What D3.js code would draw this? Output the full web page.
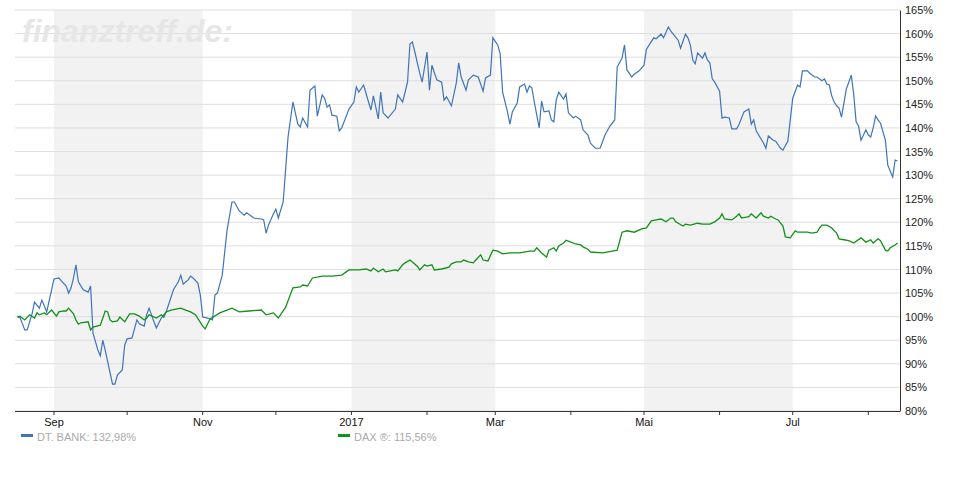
<!DOCTYPE html>
<html><head><meta charset="utf-8">
<script src="https://cdn.jsdelivr.net/npm/d3@7"></script>
<style>body{margin:0;background:#fff}svg{font-family:"Liberation Sans",Arial,sans-serif}</style>
</head><body><svg id="c" width="970" height="500"></svg>
<script>
const startDate = "2016-08-16", endDate = "2017-08-14";
const bankDays = [1,2,4,5,7,8,10,11,12,13,15,16,18,19,21,22,23,24,25,26,28,30,31,32,34,35,36,37,40,41,42,44,45,46,48,50,51,53,54,55,57,58,60,62,65,67,68,69,71,72,73,75,76,77,79,81,82,83,85,87,89,90,92,94,95,97,98,101,102,103,104,106,107,108,110,112,114,116,117,118,120,121,123,124,126,127,128,129,130,132,133,134,137,139,140,141,143,145,146,147,149,150,151,153,156,157,159,161,162,163,164,166,167,169,170,171,173,175,176,177,179,181,182,183,185,186,188,190,192,193,195,196,198,199,200,202,203,204,206,207,209,210,211,212,213,215,216,217,219,220,221,222,223,225,226,227,229,230,232,233,235,236,238,240,242,244,246,247,249,250,251,253,254,256,258,259,262,263,265,266,268,269,270,272,273,275,276,277,278,279,280,282,283,284,285,286,287,289,290,291,293,294,296,297,299,301,302,303,304,307,308,309,311,312,314,315,317,318,319,321,322,323,325,326,328,329,331,332,333,334,335,336,337,338,339,340,341,342,343,344,345,346,347,349,350,351,352,353,354,355,357,358,360,361,362];
const bankValues = [99.9,99.9,97.2,97.2,100.6,103.1,101.8,103.5,102.3,101.0,105.7,108.0,108.2,107.6,106.5,105.0,106.1,108.2,111.0,107.4,105.7,105.2,106.5,96.5,92.9,91.7,95.0,92.9,85.7,85.7,87.6,88.7,94.0,95.3,95.5,99.3,98.5,98.0,100.4,101.8,98.9,97.6,99.7,101.0,105.7,107.4,108.8,106.9,107.8,108.6,108.2,107.1,104.6,99.9,99.7,99.3,104.6,105.0,108.8,118.4,124.3,124.3,122.4,121.5,122.0,121.3,120.9,120.7,120.5,117.7,119.4,121.8,122.8,120.9,124.3,138.1,145.5,140.8,140.2,142.1,140.2,148.0,148.9,142.5,147.0,146.3,144.4,144.9,142.7,142.5,139.4,140.0,144.0,145.5,148.7,147.6,149.1,145.5,143.8,146.8,141.9,147.6,143.2,142.1,144.0,147.0,145.5,149.7,157.8,158.2,156.1,151.6,149.7,156.1,148.0,153.3,150.2,149.7,145.9,146.6,144.7,149.5,153.8,150.8,148.0,150.2,151.2,150.8,147.8,150.6,151.2,159.1,157.6,155.7,147.6,143.4,140.8,143.4,145.3,148.7,149.3,147.6,148.9,148.5,145.5,140.0,145.7,143.4,143.6,141.7,141.3,145.9,147.6,146.1,147.2,143.2,142.1,142.5,141.7,139.6,138.5,136.8,135.7,135.7,138.5,140.4,141.7,152.9,154.8,157.6,152.3,150.8,151.4,152.1,153.3,156.7,159.1,158.9,159.9,159.1,161.4,160.5,159.9,158.6,156.9,159.9,159.1,157.6,154.4,153.6,155.9,154.8,155.9,154.4,153.8,150.4,149.7,147.8,142.1,142.3,142.1,139.8,139.8,140.8,143.4,144.0,140.8,141.7,139.4,136.8,135.7,138.3,137.4,137.2,135.7,135.3,137.2,141.7,146.3,149.1,148.7,152.1,152.1,151.6,150.8,150.8,150.0,150.4,149.3,149.1,146.8,145.5,144.7,144.2,142.3,145.3,148.3,149.7,151.2,147.2,141.3,140.4,137.4,139.6,138.5,138.1,140.0,142.5,141.7,141.0,137.4,132.1,129.6,133.2,133.0];
const daxDays = [1,2,4,6,8,9,10,12,13,15,17,18,20,21,22,24,25,26,27,30,31,32,35,37,38,39,40,42,43,45,47,49,51,53,54,55,58,60,61,62,64,66,68,70,72,74,77,78,80,84,89,92,96,101,103,106,108,111,114,117,118,120,122,126,130,134,137,141,144,146,147,149,151,152,154,156,157,159,160,162,163,165,166,168,169,171,172,175,178,179,181,183,184,186,188,189,191,192,194,196,198,200,203,207,211,213,214,216,218,219,221,222,223,225,226,228,230,232,233,235,236,241,245,247,249,251,254,257,259,261,263,265,267,269,270,271,274,275,277,280,282,285,287,289,290,291,294,296,297,298,301,302,304,306,307,309,310,312,313,315,316,318,320,321,325,327,329,330,331,333,335,337,338,340,342,344,347,349,351,352,354,355,357,358,359,361,362];
const daxValues = [99.9,100.1,99.3,100.4,99.7,100.8,100.4,100.8,100.4,101.4,100.1,101.0,101.2,101.2,101.8,100.6,99.3,98.4,98.7,98.9,97.2,97.8,98.2,101.2,101.0,99.3,98.9,99.1,99.9,98.9,100.6,100.6,100.1,99.3,99.7,100.4,99.7,100.4,99.9,101.0,101.4,101.6,101.8,101.4,101.0,100.4,98.0,97.4,99.5,100.8,101.8,101.0,101.2,101.4,100.4,100.8,99.7,102.0,106.1,106.3,106.7,106.5,108.2,108.6,108.6,108.8,109.9,109.9,110.1,109.7,110.3,109.5,110.1,109.5,109.7,109.9,109.7,111.0,111.4,112.0,111.6,110.7,109.9,111.0,110.7,111.0,109.9,110.1,110.5,111.2,111.6,111.6,112.0,111.6,111.4,112.0,113.1,112.0,111.8,114.1,113.9,113.3,113.5,113.5,113.9,113.9,114.6,113.5,112.6,114.1,114.6,113.9,115.0,115.6,116.2,115.8,115.4,115.2,114.8,114.3,113.7,113.5,113.9,114.1,117.9,118.2,117.9,118.6,118.8,120.3,120.5,120.7,120.1,120.9,120.9,120.1,119.2,119.6,119.4,119.8,119.6,119.6,120.1,120.9,121.8,120.7,120.5,121.3,121.8,120.9,121.2,121.8,120.9,122.0,121.3,120.9,121.3,120.7,120.5,119.2,116.9,116.7,118.2,117.9,117.9,117.7,117.9,118.8,119.4,119.4,118.8,117.7,116.5,116.3,116.1,115.6,116.7,115.8,116.3,115.6,116.5,116.1,114.1,113.9,114.6,115.2,115.6];
const yTicks = [80,85,90,95,100,105,110,115,120,125,130,135,140,145,150,155,160,165];
const monthNames = {0:"2017",2:"Mar",4:"Mai",6:"Jul",8:"Sep",10:"Nov"};
const legendLabels = ["DT. BANK: 132,98%","DAX ®: 115,56%"];

const svg = d3.select("#c");
const p = d3.timeParse("%Y-%m-%d");
const t0 = p(startDate), t1 = p(endDate);
const L=15,R=900,T=10,B=411;
const x = d3.scaleTime().domain([t0,t1]).range([L,R]);
const y = d3.scaleLinear().domain([80,165]).range([B,T]);
const toDate = d => d3.timeDay.offset(t0,d);

const bandStarts = d3.timeMonth.range(t0,t1).filter(d=>[8,0,4].includes(d.getMonth()));
svg.selectAll(".band").data(bandStarts).join("rect")
  .attr("x",d=>x(d)).attr("y",T).attr("height",B-T)
  .attr("width",d=>x(d3.timeMonth.offset(d,2))-x(d)).attr("fill","#f2f2f2");
svg.selectAll(".g").data(yTicks).join("line")
  .attr("x1",L).attr("x2",R).attr("y1",d=>y(d)).attr("y2",d=>y(d))
  .attr("stroke","#dedede").attr("stroke-width",1);
svg.append("text").attr("x",22).attr("y",42).text("finanztreff.de:")
  .attr("font-size",32).attr("font-weight","bold").attr("font-style","italic").attr("fill","#e6e6e6");
const line = d3.line().x(d=>x(d[0])).y(d=>y(d[1]));
svg.append("path").datum(bankDays.map((d,i)=>[toDate(d),bankValues[i]]))
  .attr("d",line).attr("fill","none").attr("stroke","#3f74b7").attr("stroke-width",1.2);
svg.append("path").datum(daxDays.map((d,i)=>[toDate(d),daxValues[i]]))
  .attr("d",line).attr("fill","none").attr("stroke","#11901a").attr("stroke-width",1.3);
const ya = svg.append("g").attr("transform",`translate(${R},0)`)
  .call(d3.axisRight(y).tickValues(yTicks).tickSize(0).tickPadding(5).tickFormat(d=>d+"%"));
ya.select(".domain").attr("stroke","#333");
ya.selectAll("text").attr("font-size",11).attr("fill","#222").attr("font-family","Liberation Sans, Arial");
const months = d3.timeMonth.range(d3.timeMonth.ceil(t0),t1);
svg.append("line").attr("x1",L).attr("x2",R).attr("y1",B+0.5).attr("y2",B+0.5).attr("stroke","#333");
svg.selectAll(".mt").data(months).join("line")
  .attr("x1",d=>x(d)).attr("x2",d=>x(d)).attr("y1",B).attr("y2",B+4).attr("stroke","#333");
svg.selectAll(".ml").data(months.filter(d=>monthNames[d.getMonth()]!==undefined)).join("text")
  .attr("x",d=>x(d)).attr("y",B+15).attr("text-anchor","middle").attr("font-size",11).attr("fill","#111")
  .text(d=>monthNames[d.getMonth()]);
const lg = [[21,"#3f74b7"],[338,"#11901a"]];
lg.forEach((l,i)=>{
  svg.append("rect").attr("x",l[0]).attr("y",434).attr("width",12).attr("height",3).attr("fill",l[1]);
  svg.append("text").attr("x",l[0]+16).attr("y",441).attr("font-size",11).attr("fill","#aaa").text(legendLabels[i]);
});
</script></body></html>
